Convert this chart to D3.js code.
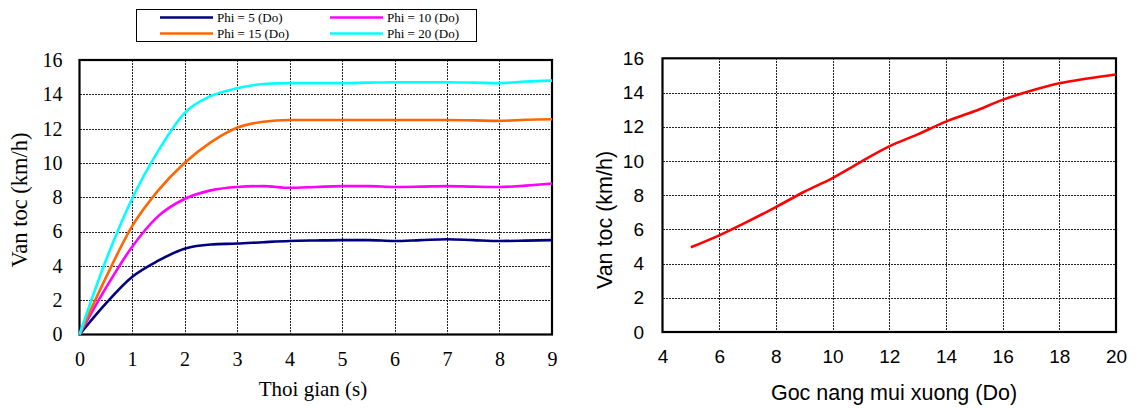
<!DOCTYPE html>
<html lang="en">
  <head>
    <title>Van toc</title>
    <meta content="text/html;charset=utf-8" http-equiv="Content-Type">
    <style>
     body { margin: 0; background: #fff; }
     .grid line { stroke: #222; stroke-width: 1px; stroke-dasharray: 2,1; shape-rendering: crispEdges; }
    </style>
  </head>
  <body>
    <div id="plot"></div>
  </body>
  <script src="https://d3js.org/d3.v7.min.js"></script>
  <script>
   // left chart: speed vs time, one series per angle
   var time = [0, 0.5, 1, 1.5, 2, 2.5, 3, 3.5, 4, 4.5, 5, 5.5, 6, 6.5, 7, 7.5, 8, 8.5, 9];
   var phi5  = [0, 1.8, 3.35, 4.3, 5.0, 5.25, 5.3, 5.38, 5.45, 5.48, 5.5, 5.5, 5.45, 5.5, 5.55, 5.5, 5.45, 5.47, 5.5];
   var phi10 = [0, 2.7, 5.1, 6.9, 7.9, 8.4, 8.6, 8.65, 8.55, 8.6, 8.65, 8.65, 8.6, 8.62, 8.65, 8.62, 8.6, 8.68, 8.8];
   var phi15 = [0, 3.3, 6.3, 8.4, 10.0, 11.2, 12.05, 12.4, 12.5, 12.5, 12.5, 12.5, 12.5, 12.5, 12.5, 12.48, 12.45, 12.52, 12.55];
   var phi20 = [0, 4.3, 7.9, 10.7, 12.9, 13.9, 14.35, 14.6, 14.65, 14.65, 14.65, 14.68, 14.7, 14.7, 14.7, 14.68, 14.65, 14.75, 14.8];
   var seriesNames = ["Phi = 5 (Do)", "Phi = 10 (Do)", "Phi = 15 (Do)", "Phi = 20 (Do)"];
   var seriesColors = ["#000080", "#ff00ff", "#ff6600", "#00ffff"];

   // right chart: speed vs angle
   var angle = [5, 6, 7, 8, 9, 10, 11, 12, 13, 14, 15, 16, 17, 18, 19, 20];
   var speed = [4.95, 5.65, 6.45, 7.3, 8.2, 9.0, 9.95, 10.85, 11.55, 12.3, 12.9, 13.57, 14.1, 14.54, 14.82, 15.05];

   var xTicksLeft = [0, 1, 2, 3, 4, 5, 6, 7, 8, 9];
   var xTicksRight = [4, 6, 8, 10, 12, 14, 16, 18, 20];
   var yTicks = [0, 2, 4, 6, 8, 10, 12, 14, 16];

   var serif = "Liberation Serif, Times New Roman, serif",
       sans = "Liberation Sans, Arial, sans-serif";

   var svg = d3.select("#plot").append("svg")
               .attr("width", 1138)
               .attr("height", 408);

   var panel = function(box, xdomain, xticks, font, o) {
     var x = d3.scaleLinear().domain(xdomain).range([box.left, box.right]);
     var y = d3.scaleLinear().domain([0, 16]).range([box.bottom, box.top]);
     var g = svg.append("g");

     var grid = g.append("g").attr("class", "grid");
     grid.selectAll(".vx").data(xticks.slice(1, -1)).enter().append("line")
         .attr("x1", d => Math.round(x(d)) + 0.5).attr("x2", d => Math.round(x(d)) + 0.5)
         .attr("y1", box.top).attr("y2", box.bottom);
     grid.selectAll(".hy").data(yTicks.slice(1, -1)).enter().append("line")
         .attr("y1", d => Math.round(y(d)) + 0.5).attr("y2", d => Math.round(y(d)) + 0.5)
         .attr("x1", box.left).attr("x2", box.right);

     g.append("rect")
      .attr("x", box.left).attr("y", box.top)
      .attr("width", box.right - box.left).attr("height", box.bottom - box.top)
      .attr("fill", "none").attr("stroke", "#000").attr("stroke-width", 2.2);

     var yaxis = g.append("g")
                  .attr("transform", "translate(" + (box.left - o.ypad) + ",0)")
                  .call(d3.axisLeft(y).tickValues(yTicks).tickSize(0).tickPadding(0));
     var xaxis = g.append("g")
                  .attr("transform", "translate(0," + (box.bottom + o.xpad) + ")")
                  .call(d3.axisBottom(x).tickValues(xticks).tickSize(0).tickPadding(0).tickFormat(d3.format("d")));
     [yaxis, xaxis].forEach(function(a) {
       a.attr("font-family", null).attr("font-size", null);
       a.select(".domain").remove();
       a.selectAll("text")
        .attr("fill", "#000")
        .style("font-family", font)
        .style("font-size", o.tickSize + "px");
     });

     g.append("text")
      .attr("x", o.xtitleX).attr("y", o.xtitleY)
      .attr("text-anchor", "middle")
      .style("font-family", font).style("font-size", o.xtitleSize + "px")
      .text(o.xtitle);
     g.append("text")
      .attr("transform", "translate(" + o.ytitleX + "," + o.ytitleY + ") rotate(-90)")
      .attr("text-anchor", "middle")
      .style("font-family", font).style("font-size", o.ytitleSize + "px")
      .text(o.ytitle);

     return [x, y, g];
   };

   // left panel
   var ret = panel({left: 79.5, right: 552, top: 60, bottom: 334.5}, [0, 9], xTicksLeft, serif,
                   {tickSize: 20, xtitleSize: 21, ytitleSize: 22.5, ypad: 17, xpad: 17.3,
                    xtitle: "Thoi gian (s)", xtitleX: 313, xtitleY: 396,
                    ytitle: "Van toc (km/h)", ytitleX: 27, ytitleY: 200});
   var xl = ret[0], yl = ret[1], gl = ret[2];
   [phi5, phi10, phi15, phi20].forEach(function(vals, i) {
     var line = d3.line()
                  .x((d, j) => xl(time[j]))
                  .y(d => yl(d))
                  .curve(d3.curveMonotoneX);
     gl.append("path")
       .attr("d", line(vals))
       .attr("fill", "none")
       .attr("stroke", seriesColors[i])
       .attr("stroke-width", 2.6);
   });

   // legend
   var leg = svg.append("g");
   leg.append("rect")
      .attr("x", 136.5).attr("y", 9.5).attr("width", 340).attr("height", 32)
      .attr("fill", "#fff").attr("stroke", "#000").attr("stroke-width", 1);
   var legPos = [[160, 17.5], [330, 17.5], [160, 33.5], [330, 33.5]];
   seriesNames.forEach(function(name, i) {
     var p = legPos[i];
     leg.append("line")
        .attr("x1", p[0]).attr("x2", p[0] + 53)
        .attr("y1", p[1]).attr("y2", p[1])
        .attr("stroke", seriesColors[i]).attr("stroke-width", 2.5);
     leg.append("text")
        .attr("x", p[0] + 57).attr("y", p[1] + 4.5)
        .style("font-family", serif)
        .style("font-size", "13px")
        .text(name);
   });

   // right panel
   var ret2 = panel({left: 662.5, right: 1116, top: 58.3, bottom: 332}, [4, 20], xTicksRight, sans,
                    {tickSize: 19, xtitleSize: 21.5, ytitleSize: 21.5, ypad: 18.5, xpad: 17.5,
                     xtitle: "Goc nang mui xuong (Do)", xtitleX: 894, xtitleY: 400,
                     ytitle: "Van toc (km/h)", ytitleX: 612, ytitleY: 220});
   var xr = ret2[0], yr = ret2[1], gr = ret2[2];
   var rline = d3.line()
                 .x((d, j) => xr(angle[j]))
                 .y(d => yr(d))
                 .curve(d3.curveCatmullRom);
   gr.append("path")
     .attr("d", rline(speed))
     .attr("fill", "none")
     .attr("stroke", "#ff0000")
     .attr("stroke-width", 2.6);
  </script>
</html>
